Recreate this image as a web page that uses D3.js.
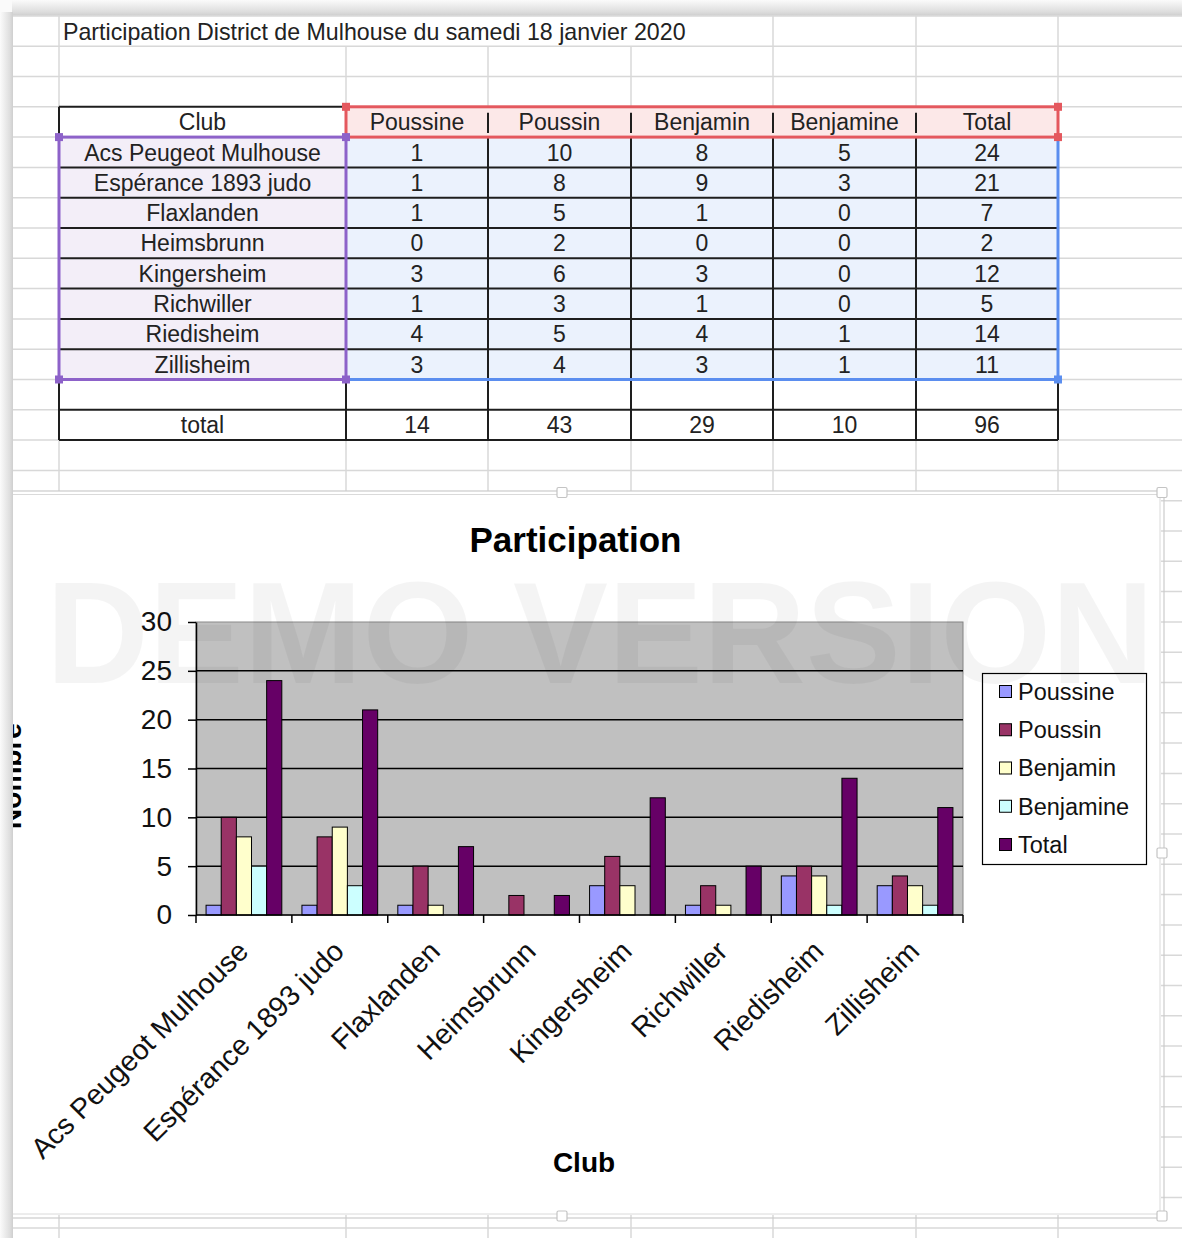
<!DOCTYPE html>
<html>
<head>
<meta charset="utf-8">
<script src="https://cdn.jsdelivr.net/npm/d3@7"></script>
<style>
  html, body { margin: 0; padding: 0; background: #fff; overflow: hidden; }
  svg { display: block; }
</style>
</head>
<body>
<svg id="page" width="1182" height="1238"></svg>
<script>
// données du tableau
const sheetTitle = "Participation District de Mulhouse du samedi 18 janvier 2020";
const clubHeader = "Club";
const totalLabel = "total";
const clubs = ["Acs Peugeot Mulhouse", "Espérance 1893 judo", "Flaxlanden", "Heimsbrunn",
  "Kingersheim", "Richwiller", "Riedisheim", "Zillisheim"];
const seriesNames = ["Poussine", "Poussin", "Benjamin", "Benjamine", "Total"];
const poussine = [1, 1, 1, 0, 3, 1, 4, 3];
const poussin = [10, 8, 5, 2, 6, 3, 5, 4];
const benjamin = [8, 9, 1, 0, 3, 1, 4, 3];
const benjamine = [5, 3, 0, 0, 0, 0, 1, 1];
const total = [24, 21, 7, 2, 12, 5, 14, 11];
const totalRow = [14, 43, 29, 10, 96];
const yTicks = [0, 5, 10, 15, 20, 25, 30];
const seriesColors = ["#9999ff", "#993366", "#ffffcc", "#ccffff", "#660066"];

const seriesValues = [poussine, poussin, benjamin, benjamine, total];

const svg = d3.select("#page");
const W = 1182, H = 1238;
const font = "'Liberation Sans', Arial, sans-serif";

// grille de la feuille
const colX = [13, 59, 346, 488, 631, 773, 916, 1058];
const rowY = k => 15.9 + 30.3 * k;
const gridColor = "#d8d8d8";

svg.append("rect").attr("width", W).attr("height", H).attr("fill", "#fff");

const grid = svg.append("g");
d3.range(0, 41).forEach(k => {
  grid.append("line")
    .attr("x1", 13).attr("x2", W)
    .attr("y1", rowY(k)).attr("y2", rowY(k))
    .attr("stroke", gridColor).attr("stroke-width", 1.5);
});
colX.slice(1).forEach(x => {
  // le titre déborde sur les colonnes B à E
  const top = (x > 59 && x < 700) ? rowY(1) : rowY(0);
  grid.append("line")
    .attr("x1", x).attr("x2", x)
    .attr("y1", top).attr("y2", H)
    .attr("stroke", gridColor).attr("stroke-width", 1.5);
});

svg.append("text")
  .attr("x", 63).attr("y", 40)
  .style("font-family", font).style("font-size", "23.2px").attr("fill", "#222")
  .text(sheetTitle);

// tableau
const tbl = svg.append("g");
const valueCols = d3.range(5).map(i => ({ x0: colX[i + 2], x1: colX[i + 3] || 1058 }));
valueCols[4].x1 = 1058;

tbl.append("rect").attr("x", 59).attr("y", rowY(3)).attr("width", 346 - 59).attr("height", 30.3).attr("fill", "#fff");
tbl.append("rect").attr("x", 346).attr("y", rowY(3)).attr("width", 1058 - 346).attr("height", 30.3).attr("fill", "#fce8e8");
tbl.append("rect").attr("x", 59).attr("y", rowY(4)).attr("width", 346 - 59).attr("height", 30.3 * 8).attr("fill", "#f3eef8");
tbl.append("rect").attr("x", 346).attr("y", rowY(4)).attr("width", 1058 - 346).attr("height", 30.3 * 8).attr("fill", "#ebf2fd");
tbl.append("rect").attr("x", 59).attr("y", rowY(12)).attr("width", 1058 - 59).attr("height", 30.3 * 2).attr("fill", "#fff");

const ink = "#1e1e1e";
function blackLine(x1, y1, x2, y2) {
  tbl.append("line").attr("x1", x1).attr("y1", y1).attr("x2", x2).attr("y2", y2)
    .attr("stroke", ink).attr("stroke-width", 2);
}
d3.range(5, 12).forEach(k => blackLine(59, rowY(k), 1058, rowY(k)));
[488, 631, 773, 916].forEach(x => {
  blackLine(x, rowY(4), x, rowY(14));
  blackLine(x, rowY(3) + 6, x, rowY(4) - 4);
});
[59, 346, 1058].forEach(x => blackLine(x, rowY(12), x, rowY(14)));
blackLine(59, rowY(13), 1058, rowY(13));
blackLine(59, rowY(14), 1058, rowY(14));
blackLine(59, rowY(3), 346, rowY(3));
blackLine(59, rowY(3), 59, rowY(4));

// cadres de sélection
const red = "#e4585e", purple = "#8d62c9", blue = "#5b8eef";
tbl.append("path").attr("d", `M1058,${rowY(4)}V${rowY(12)}H346`)
  .attr("fill", "none").attr("stroke", blue).attr("stroke-width", 3);
tbl.append("rect").attr("x", 346).attr("y", rowY(3)).attr("width", 1058 - 346).attr("height", 30.3)
  .attr("fill", "none").attr("stroke", red).attr("stroke-width", 3);
tbl.append("rect").attr("x", 59).attr("y", rowY(4)).attr("width", 346 - 59).attr("height", 30.3 * 8)
  .attr("fill", "none").attr("stroke", purple).attr("stroke-width", 3);
const handles = [
  [346, rowY(3), red], [1058, rowY(3), red], [1058, rowY(4), red],
  [59, rowY(4), purple], [346, rowY(4), purple], [59, rowY(12), purple], [346, rowY(12), purple],
  [1058, rowY(12), blue]
];
tbl.selectAll(".handle").data(handles).join("rect")
  .attr("x", d => d[0] - 4).attr("y", d => d[1] - 4)
  .attr("width", 8).attr("height", 8).attr("fill", d => d[2]);

function cellText(x, k, txt) {
  tbl.append("text")
    .attr("x", x).attr("y", rowY(k) + 15.2).attr("dy", "0.36em")
    .attr("text-anchor", "middle")
    .style("font-family", font).style("font-size", "23px").attr("fill", "#222")
    .text(txt);
}
const colMid = i => (valueCols[i].x0 + valueCols[i].x1) / 2;
cellText(202.5, 3, clubHeader);
seriesNames.forEach((s, i) => cellText(colMid(i), 3, s));
clubs.forEach((c, r) => {
  cellText(202.5, 4 + r, c);
  seriesValues.forEach((vals, i) => cellText(colMid(i), 4 + r, vals[r]));
});
cellText(202.5, 13, totalLabel);
totalRow.forEach((v, i) => cellText(colMid(i), 13, v));

// objet graphique
const chart = svg.append("g");
chart.append("rect").attr("x", 8).attr("y", 491).attr("width", 1153).attr("height", 724)
  .attr("fill", "#fff");
chart.append("rect").attr("x", 8).attr("y", 491).attr("width", 1156).attr("height", 727)
  .attr("fill", "none").attr("stroke", "#cbcbcb").attr("stroke-width", 1.2);
chart.append("rect").attr("x", 8).attr("y", 494.5).attr("width", 1152).attr("height", 719.5)
  .attr("fill", "none").attr("stroke", "#dadada").attr("stroke-width", 1);
[[562, 492.5], [1162, 492.5], [1162, 853], [1162, 1216], [562, 1216]].forEach(p => {
  chart.append("rect").attr("x", p[0] - 5).attr("y", p[1] - 5).attr("width", 10).attr("height", 10)
    .attr("rx", 1.5).attr("fill", "#fff").attr("stroke", "#c4c4c4").attr("stroke-width", 1.2);
});

const plot = { left: 196, right: 963, top: 622, bottom: 915 };
const y = d3.scaleLinear().domain([0, 30]).range([plot.bottom, plot.top]);
const xCat = d3.scaleBand().domain(clubs).range([plot.left, plot.right]);
const x0 = d3.scaleBand().domain(clubs).range([plot.left, plot.right])
  .paddingInner(0.21).paddingOuter(0.105);
const x1 = d3.scaleBand().domain(seriesNames).range([0, x0.bandwidth()]);
const color = d3.scaleOrdinal().domain(seriesNames).range(seriesColors);

chart.append("rect")
  .attr("x", plot.left).attr("y", plot.top)
  .attr("width", plot.right - plot.left).attr("height", plot.bottom - plot.top)
  .attr("fill", "#c0c0c0").attr("stroke", "#8a8a8a").attr("stroke-width", 1);

chart.append("g").selectAll("line")
  .data(yTicks.filter(t => t > 0 && t < 30))
  .join("line")
  .attr("x1", plot.left).attr("x2", plot.right)
  .attr("y1", d => y(d)).attr("y2", d => y(d))
  .attr("stroke", "#000").attr("stroke-width", 1.5);

// barres
const barData = [];
clubs.forEach((c, r) => seriesNames.forEach((s, i) => barData.push({ club: c, serie: s, v: seriesValues[i][r] })));
chart.append("g").selectAll("rect")
  .data(barData.filter(d => d.v > 0))
  .join("rect")
  .attr("x", d => x0(d.club) + x1(d.serie))
  .attr("y", d => y(d.v))
  .attr("width", x1.bandwidth())
  .attr("height", d => y(0) - y(d.v))
  .attr("fill", d => color(d.serie))
  .attr("stroke", "#000").attr("stroke-width", 1);

// axes
const yAxis = chart.append("g")
  .attr("transform", `translate(${plot.left},0)`)
  .call(d3.axisLeft(y).tickValues(yTicks).tickSize(8).tickPadding(16).tickSizeOuter(0));
yAxis.select(".domain").attr("stroke", "#000").attr("stroke-width", 1.5);
yAxis.selectAll(".tick line").attr("stroke", "#000").attr("stroke-width", 1.5);
yAxis.selectAll("text").style("font-family", font).style("font-size", "28px").attr("fill", "#111");

chart.append("line")
  .attr("x1", plot.left).attr("x2", plot.right)
  .attr("y1", plot.bottom).attr("y2", plot.bottom)
  .attr("stroke", "#000").attr("stroke-width", 1.5);
chart.append("g").selectAll("line")
  .data(clubs.map(c => xCat(c)).concat([plot.right]))
  .join("line")
  .attr("x1", d => d).attr("x2", d => d)
  .attr("y1", plot.bottom).attr("y2", plot.bottom + 8)
  .attr("stroke", "#000").attr("stroke-width", 1.5);

chart.append("g").selectAll("text")
  .data(clubs)
  .join("text")
  .attr("transform", d => `translate(${xCat(d) + xCat.bandwidth() / 2 + 6},953) rotate(-45)`)
  .attr("text-anchor", "end")
  .style("font-family", font).style("font-size", "28.5px").attr("fill", "#111")
  .text(d => d);

chart.append("text")
  .attr("x", 575.5).attr("y", 552).attr("text-anchor", "middle")
  .style("font-family", font).style("font-size", "35px").style("font-weight", "bold")
  .text("Participation");
chart.append("text")
  .attr("x", 584).attr("y", 1172).attr("text-anchor", "middle")
  .style("font-family", font).style("font-size", "28px").style("font-weight", "bold")
  .text("Club");
chart.append("text")
  .attr("transform", "translate(21,776) rotate(-90)").attr("text-anchor", "middle")
  .style("font-family", font).style("font-size", "28px").style("font-weight", "bold")
  .text("Nombre");

// légende
const legend = chart.append("g");
legend.append("rect").attr("x", 982.5).attr("y", 673.5).attr("width", 164).attr("height", 191)
  .attr("fill", "#fff").attr("stroke", "#000").attr("stroke-width", 1.2);
const ly = d3.scalePoint().domain(seriesNames).range([691.5, 844.5]);
const items = legend.selectAll("g.item").data(seriesNames).join("g").attr("class", "item");
items.append("rect")
  .attr("x", 999.5).attr("y", d => ly(d) - 6).attr("width", 12).attr("height", 12)
  .attr("fill", d => color(d)).attr("stroke", "#000").attr("stroke-width", 1);
items.append("text")
  .attr("x", 1018).attr("y", d => ly(d)).attr("dy", "0.36em")
  .style("font-family", font).style("font-size", "23.5px").attr("fill", "#111")
  .text(d => d);

// filigrane
chart.append("text")
  .attr("x", 46).attr("y", 683)
  .attr("textLength", 1108).attr("lengthAdjust", "spacingAndGlyphs")
  .style("font-family", font).style("font-size", "144px").style("font-weight", "bold")
  .attr("fill", "#000").attr("fill-opacity", 0.045)
  .style("pointer-events", "none")
  .text("DEMO VERSION");

// ombre de la capture
const defs = svg.append("defs");
const gTop = defs.append("linearGradient").attr("id", "shTop").attr("x1", 0).attr("y1", 0).attr("x2", 0).attr("y2", 1);
gTop.append("stop").attr("offset", "0%").attr("stop-color", "#fbfbfb");
gTop.append("stop").attr("offset", "75%").attr("stop-color", "#dedede");
gTop.append("stop").attr("offset", "100%").attr("stop-color", "#cfcfcf");
const gLeft = defs.append("linearGradient").attr("id", "shLeft").attr("x1", 0).attr("y1", 0).attr("x2", 1).attr("y2", 0);
gLeft.append("stop").attr("offset", "0%").attr("stop-color", "#fbfbfb");
gLeft.append("stop").attr("offset", "75%").attr("stop-color", "#dedede");
gLeft.append("stop").attr("offset", "100%").attr("stop-color", "#cfcfcf");
svg.append("rect").attr("x", 10).attr("y", 0).attr("width", W - 10).attr("height", 15.5).attr("fill", "url(#shTop)");
svg.append("rect").attr("x", 0).attr("y", 12).attr("width", 13).attr("height", H - 12).attr("fill", "url(#shLeft)");
svg.append("rect").attr("x", 0).attr("y", 0).attr("width", 12).attr("height", 12).attr("fill", "#fafafa");
</script>
</body>
</html>
